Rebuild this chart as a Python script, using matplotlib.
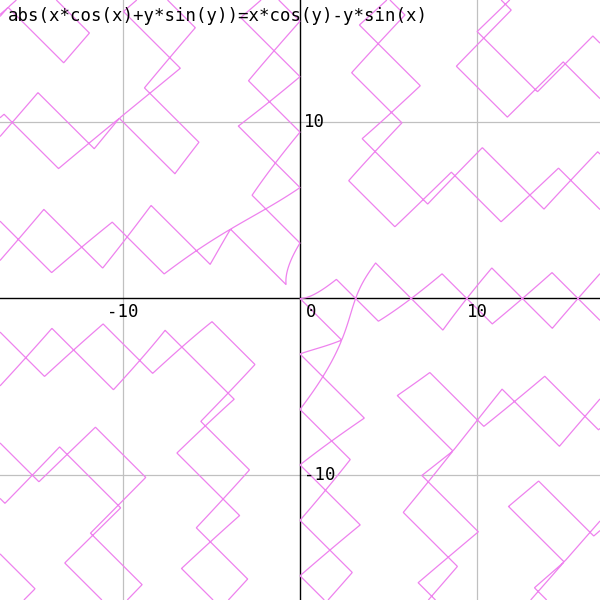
import numpy as np
import matplotlib
matplotlib.use("Agg")
import matplotlib.pyplot as plt

# Implicit equation plotted (the chart's "data")
equation_label = "abs(x*cos(x)+y*sin(y))=x*cos(y)-y*sin(x)"
x_range = [-16.95, 16.95]
y_range = [-17.08, 16.91]
grid_ticks = [-10, 10]
x_tick_labels = ["-10", "0", "10"]
y_tick_labels = ["10", "-10"]

def lhs_minus_rhs(x, y):
    return np.abs(x * np.cos(x) + y * np.sin(y)) - (x * np.cos(y) - y * np.sin(x))

fig = plt.figure(figsize=(6, 6), dpi=100)
ax = fig.add_axes([0, 0, 1, 1])
ax.set_xlim(*x_range)
ax.set_ylim(*y_range)
ax.axis("off")

gray = "#c0c0c0"
for g in grid_ticks:
    ax.axvline(g, color=gray, lw=0.9, zorder=1)
    ax.axhline(g, color=gray, lw=0.9, zorder=1)
ax.axvline(0, color="black", lw=1.0, zorder=1)
ax.axhline(0, color="black", lw=1.0, zorder=1)

n = 1600
xs = np.linspace(x_range[0], x_range[1], n)
ys = np.linspace(y_range[0], y_range[1], n)
X, Y = np.meshgrid(xs, ys)
Z = lhs_minus_rhs(X, Y)
ax.contour(X, Y, Z, levels=[0], colors=["#ee82ee"], linewidths=0.9, zorder=2)

font = dict(family="DejaVu Sans Mono", fontsize=12.5, color="black", zorder=5)
# x-axis labels
ax.text(-10, -0.25, x_tick_labels[0], ha="center", va="top", **font)
ax.text(0.35, -0.25, x_tick_labels[1], ha="left", va="top", **font)
ax.text(10, -0.25, x_tick_labels[2], ha="center", va="top", **font)
# y-axis labels
ax.text(0.2, 10, y_tick_labels[0], ha="left", va="center", **font)
ax.text(0.2, -10, y_tick_labels[1], ha="left", va="center", **font)

fig.text(8 / 600, 1 - 7 / 600, equation_label, ha="left", va="top", **font)

fig.savefig("out.png", dpi=100)
